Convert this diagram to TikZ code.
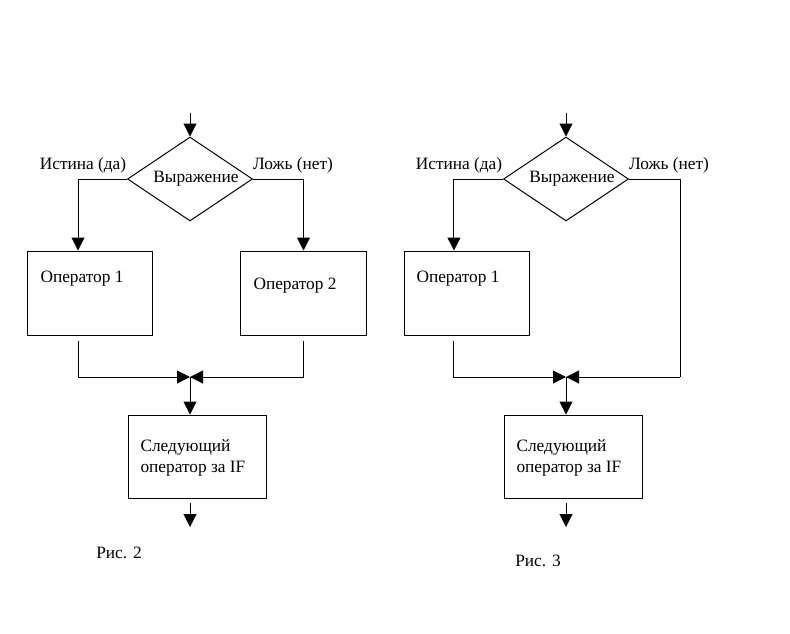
\documentclass[tikz,border=0pt]{standalone}
\usepackage{fontspec}
\setmainfont{Liberation Serif}
\usetikzlibrary{shapes.geometric,arrows.meta}

\begin{document}
\begin{tikzpicture}[
  x=0.75pt, y=-0.75pt,
  font=\fontsize{13}{15.75}\selectfont,
  line width=0.75pt,
  >={Triangle[length=9.75pt,width=9.75pt]},
  cond/.style={draw, diamond, aspect=1.5, inner sep=0pt,
    minimum width=93.75pt, minimum height=63pt},
  block/.style={draw, rectangle, inner sep=0pt,
    minimum width=94pt, minimum height=63pt},
  txt/.style={anchor=west, inner sep=0pt, align=left},
  ]
  \useasboundingbox (0,0) rectangle (790,633);
  % Рис. 2
  \coordinate (in2) at (190,113);
  \node [cond] (c2) at (190,179) {\hspace{9pt}Выражение};
  \node (yes2) at (83,165) {Истина (да)};
  \node (no2) at (293,165) {Ложь (нет)};
  \node [block] (op21) at (90,293) {};
  \node [block] (op22) at (303.5,293) {};
  \node [txt] (t21) at (40,279) {Оператор 1};
  \node [txt] (t22) at (253,286) {Оператор 2};
  \coordinate (m2) at (190,377);
  \node [block, minimum width=103.5pt, minimum height=62.25pt] (n2) at (197,456.5) {};
  \node [txt] (t23) at (140,458) {Следующий\\оператор за IF};
  \coordinate (o2a) at (190,503);
  \coordinate (o2b) at (190,527);
  \node (cap2) at (119,553) {Рис. 2};
  \draw [->] (in2) -- (c2.north);
  \draw [->] (c2.west) -| ([xshift=-9pt]op21.north);
  \draw [->] (c2.east) -| (op22.north);
  \draw [->] ([xshift=-9pt,yshift=-3.75pt]op21.south) |- (m2);
  \draw [->] ([yshift=-3.75pt]op22.south) |- (m2);
  \draw [->] (m2) -- (m2 |- n2.north);
  \draw [->] (o2a) -- (o2b);
  % Рис. 3
  \coordinate (in3) at (566,113);
  \node [cond] (c3) at (566,179) {\hspace{9pt}Выражение};
  \node (yes3) at (459,165) {Истина (да)};
  \node (no3) at (669,165) {Ложь (нет)};
  \node [block, minimum width=93.75pt] (op31) at (466.5,293) {};
  \node [txt] (t31) at (416,279) {Оператор 1};
  \coordinate (r3) at (680,377);
  \coordinate (m3) at (566,377);
  \node [block, minimum width=103.5pt, minimum height=62.25pt] (n3) at (573,456.5) {};
  \node [txt] (t33) at (516,458) {Следующий\\оператор за IF};
  \coordinate (o3a) at (566,503);
  \coordinate (o3b) at (566,527);
  \node (cap3) at (538,561) {Рис. 3};
  \draw [->] (in3) -- (c3.north);
  \draw [->] (c3.west) -| ([xshift=-9.4pt]op31.north);
  \draw (c3.east) -| (r3);
  \draw [->] (r3) -- (m3);
  \draw [->] ([xshift=-9.4pt,yshift=-3.75pt]op31.south) |- (m3);
  \draw [->] (m3) -- (m3 |- n3.north);
  \draw [->] (o3a) -- (o3b);
\end{tikzpicture}
\end{document}
